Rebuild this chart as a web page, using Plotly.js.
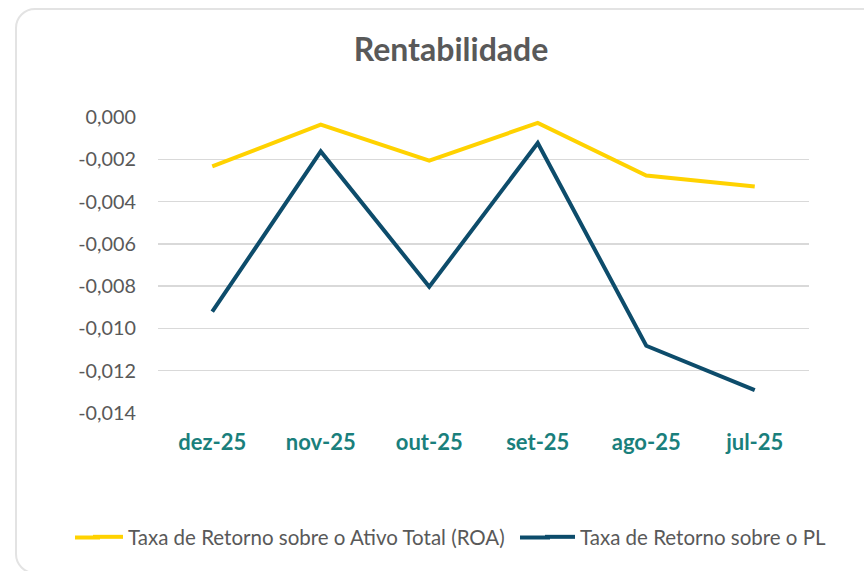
<!DOCTYPE html>
<html>
<head>
<meta charset="utf-8">
<script src="https://cdn.plot.ly/plotly-3.0.1.min.js"></script>
<style>
  html, body { margin: 0; padding: 0; background: #ffffff; overflow: hidden; }
  #frame { position: absolute; left: 15px; top: 8px; width: 920px; height: 566px;
           border: 2px solid #e3e3e3; border-radius: 20px; box-sizing: border-box; }
  #chart { position: absolute; left: 0; top: 0; width: 864px; height: 571px; }
</style>
</head>
<body>
<div id="frame"></div>
<div id="chart"></div>
<script>
const categories = ["dez-25", "nov-25", "out-25", "set-25", "ago-25", "jul-25"];
const roa = [-0.00234, -0.00036, -0.00206, -0.00028, -0.00277, -0.00329];
const rpl = [-0.00921, -0.00163, -0.00803, -0.00123, -0.01082, -0.01292];
const yTickVals = [0, -0.002, -0.004, -0.006, -0.008, -0.010, -0.012, -0.014];
const yTickText = ["0,000", "-0,002", "-0,004", "-0,006", "-0,008", "-0,010", "-0,012", "-0,014"];
const seriesNames = ["Taxa de Retorno sobre o Ativo Total (ROA)", "Taxa de Retorno sobre o PL"];

const FONT = "Lato, 'Open Sans', sans-serif";
const COLORS = ["#FFD200", "#0D4C6B"];

const traces = [
  { x: categories, y: roa, name: seriesNames[0], type: "scatter", mode: "lines",
    line: { color: COLORS[0], width: 4 }, cliponaxis: false, legend: "legend" },
  { x: categories, y: rpl, name: seriesNames[1], type: "scatter", mode: "lines",
    line: { color: COLORS[1], width: 4 }, cliponaxis: false, legend: "legend2" }
];

// plot area geometry (px) used to convert legend-sample extensions to paper coords
const L = 158, R = 55, T = 117, B = 158, W = 864, H = 571;
const pw = W - L - R, ph = H - T - B;
const px2x = p => (p - L) / pw;
const py2y = p => (H - B - p) / ph;

const legendFont = { family: FONT, size: 20.5, color: "#595959" };

const layout = {
  width: W, height: H,
  paper_bgcolor: "rgba(0,0,0,0)", plot_bgcolor: "rgba(0,0,0,0)",
  margin: { l: L, r: R, t: T, b: B },
  font: { family: FONT, color: "#595959" },
  title: { text: "<b>Rentabilidade</b>", font: { family: FONT, size: 32, color: "#595959" },
           x: 451 / W, xref: "container", xanchor: "center",
           y: 1 - 50 / H, yref: "container", yanchor: "middle" },
  xaxis: { type: "category", range: [-0.5, 5.5], autorange: false,
           showgrid: false, zeroline: false, showline: false,
           ticks: "", ticklabelstandoff: 14,
           tickfont: { family: FONT, size: 22, color: "#1A7F7C", weight: "bold" } },
  yaxis: { range: [-0.014, 0], autorange: false, tickvals: yTickVals, ticktext: yTickText,
           showgrid: true, gridcolor: "#d9d9d9", gridwidth: 1.5, zeroline: false, showline: false,
           ticks: "", ticklabelstandoff: 21,
           tickfont: { family: FONT, size: 19.8, color: "#595959" } },
  showlegend: true,
  legend: { orientation: "h", xref: "container", x: 88 / W, xanchor: "left",
            yref: "container", y: 1 - 537 / H, yanchor: "middle",
            font: legendFont, bgcolor: "rgba(0,0,0,0)" },
  legend2: { orientation: "h", xref: "container", x: 540 / W, xanchor: "left",
            yref: "container", y: 1 - 537 / H, yanchor: "middle",
            font: legendFont, bgcolor: "rgba(0,0,0,0)" },
  shapes: [
    { type: "line", xref: "paper", yref: "paper", layer: "above",
      x0: px2x(75), x1: px2x(100), y0: py2y(537.5), y1: py2y(537.5),
      line: { color: COLORS[0], width: 4 } },
    { type: "line", xref: "paper", yref: "paper", layer: "above",
      x0: px2x(520), x1: px2x(550), y0: py2y(537.5), y1: py2y(537.5),
      line: { color: COLORS[1], width: 4 } }
  ]
};

Plotly.newPlot("chart", traces, layout, { displayModeBar: false, staticPlot: true });
</script>
</body>
</html>
